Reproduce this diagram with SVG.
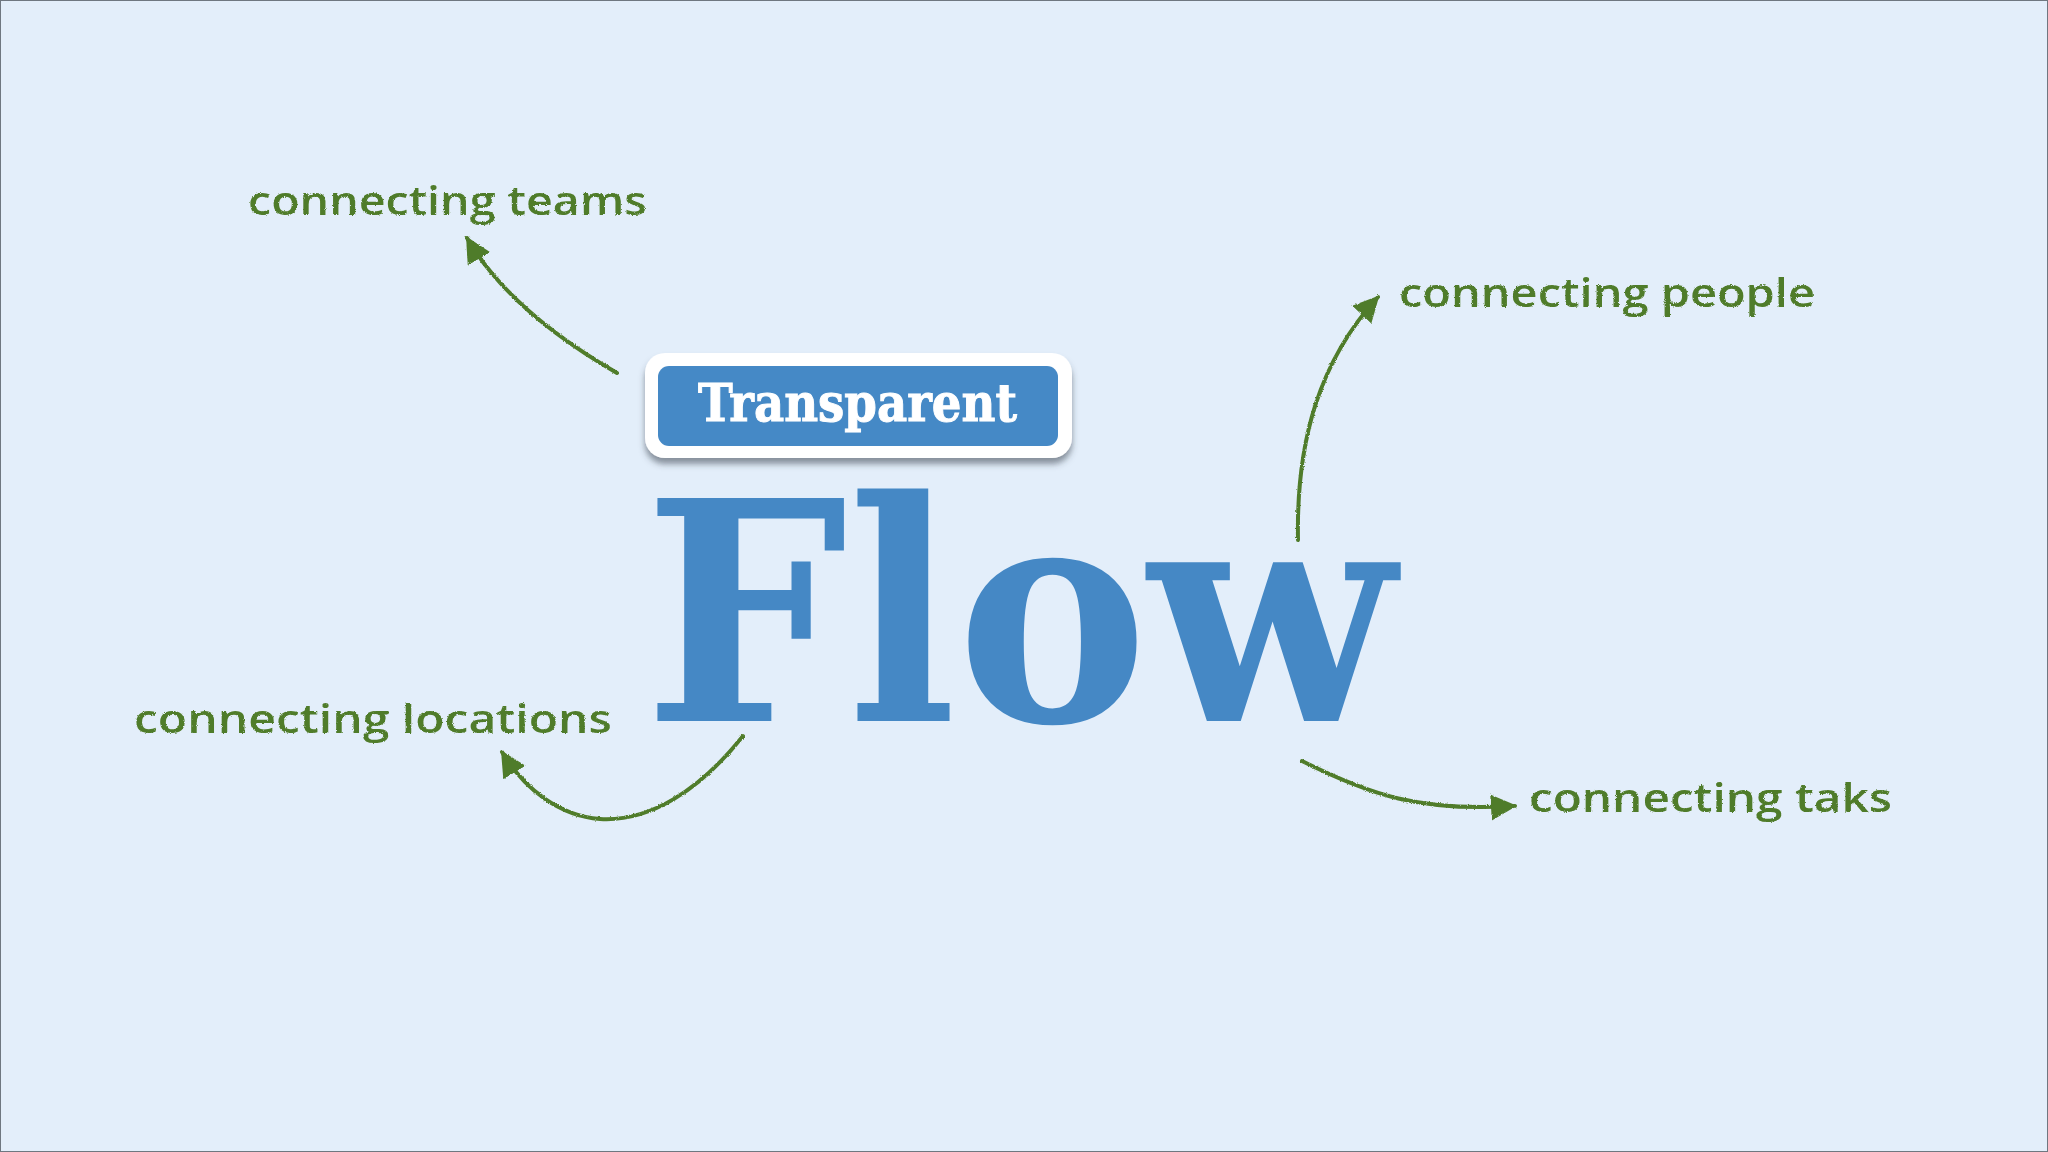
<svg xmlns="http://www.w3.org/2000/svg" width="2048" height="1152" viewBox="0 0 2048 1152">
  <style>
    .label { font-family: "Open Sans", "DejaVu Sans", sans-serif; font-weight: 600; font-size: 40px; fill: #507C2A; }
    .conn { fill: none; stroke: #507C2A; stroke-width: 4; stroke-linecap: round; }
  </style>
  <defs>
    <marker id="arrow" markerUnits="userSpaceOnUse" markerWidth="30" markerHeight="30" refX="24" refY="13" orient="auto" viewBox="0 0 30 26">
      <path d="M0,0 L26,13 L0,26 Z" fill="#507C2A"/>
    </marker>
    <filter id="shadow" x="-10%" y="-20%" width="120%" height="150%">
      <feDropShadow dx="0" dy="6" stdDeviation="3" flood-color="#3a4350" flood-opacity="0.55"/>
    </filter>
    <filter id="chalk" x="-5%" y="-20%" width="110%" height="140%">
      <feTurbulence type="fractalNoise" baseFrequency="0.9" numOctaves="2" seed="3" result="n"/>
      <feDisplacementMap in="SourceGraphic" in2="n" scale="2.5" xChannelSelector="R" yChannelSelector="G"/>
    </filter>
  </defs>

  <rect x="0.5" y="0.5" width="2047" height="1151" fill="#E3EEFA" stroke="#6F7780" stroke-width="1"/>

  <g id="connectors" filter="url(#chalk)">
    <path class="conn" d="M617,373 C560,340 500,295 467,238" marker-end="url(#arrow)"/>
    <path class="conn" d="M1298,540 C1296,440 1320,360 1378,297" marker-end="url(#arrow)"/>
    <path class="conn" d="M743,736 C700,790 650,822 600,819 C560,816 525,790 502,752" marker-end="url(#arrow)"/>
    <path class="conn" d="M1302,761 C1370,795 1420,812 1515,806" marker-end="url(#arrow)"/>
  </g>

  <g id="transparent">
    <rect x="645" y="353" width="427" height="105" rx="20" ry="20" fill="#FFFFFF" filter="url(#shadow)"/>
    <rect x="658" y="366" width="400" height="80" rx="11" ry="11" fill="#4589C6"/>
    <text x="698" y="421" font-family="DejaVu Serif, serif" font-weight="bold" font-size="52" fill="#FFFFFF" stroke="#FFFFFF" stroke-width="1" textLength="319" lengthAdjust="spacingAndGlyphs">Transparent</text>
  </g>

  <g id="flow">
    <text x="644" y="721" font-family="DejaVu Serif, serif" font-weight="bold" font-size="306" fill="#4588C5" textLength="751" lengthAdjust="spacingAndGlyphs">Flow</text>
  </g>

  <g id="teams" filter="url(#chalk)">
    <text class="label" x="248" y="215" textLength="399" lengthAdjust="spacingAndGlyphs">connecting teams</text>
  </g>
  <g id="people" filter="url(#chalk)">
    <text class="label" x="1399" y="307" textLength="416" lengthAdjust="spacingAndGlyphs">connecting people</text>
  </g>
  <g id="locations" filter="url(#chalk)">
    <text class="label" x="134" y="733" textLength="478" lengthAdjust="spacingAndGlyphs">connecting locations</text>
  </g>
  <g id="taks" filter="url(#chalk)">
    <text class="label" x="1529" y="812" textLength="363" lengthAdjust="spacingAndGlyphs">connecting taks</text>
  </g>
</svg>
